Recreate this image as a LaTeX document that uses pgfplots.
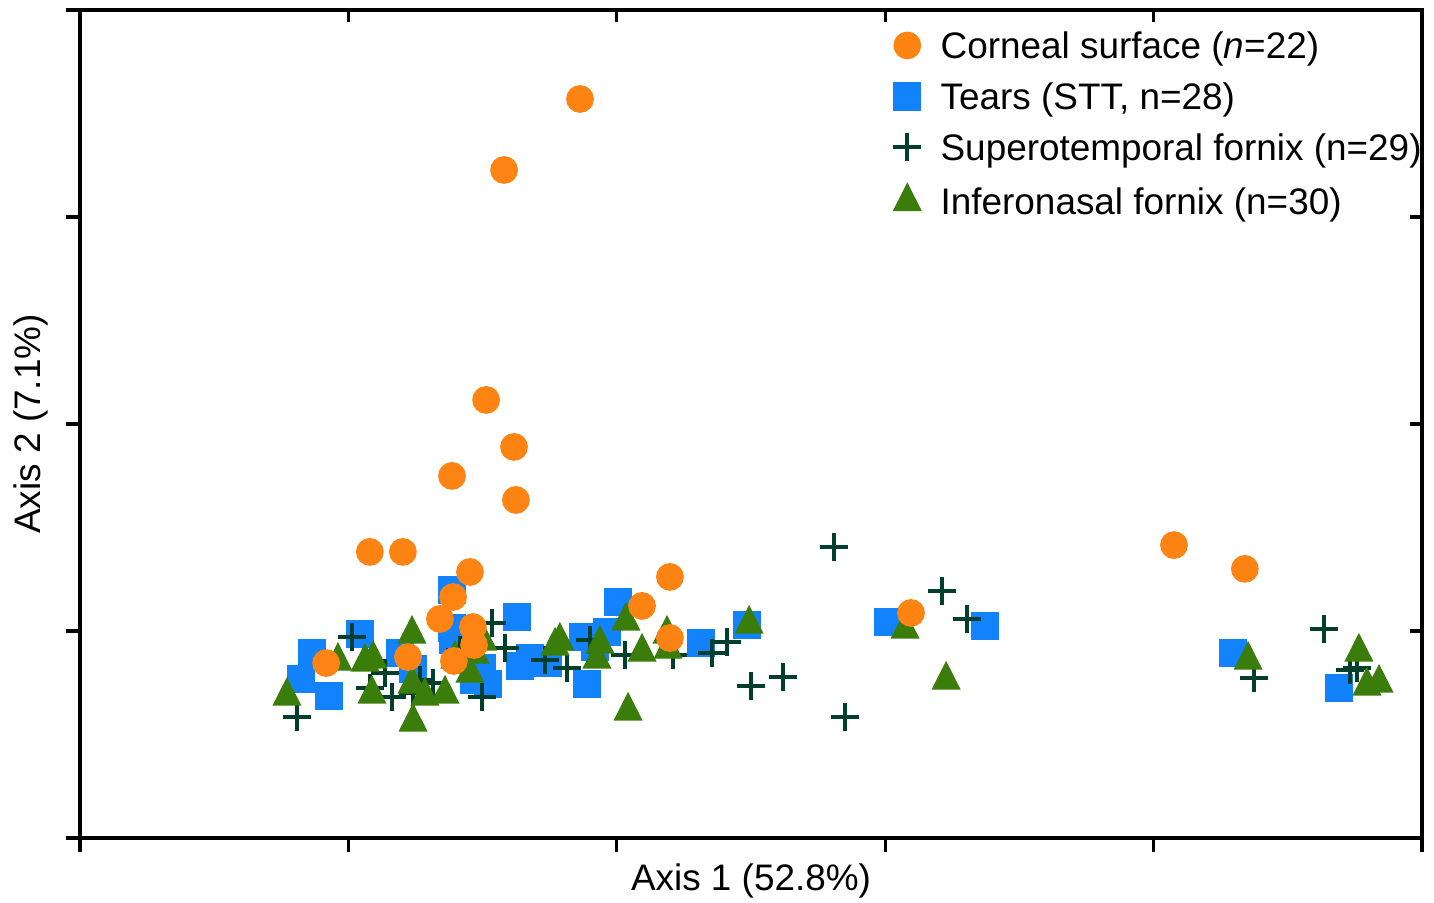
\documentclass[border=0pt]{standalone}
\usepackage{pgfplots}
\pgfplotsset{compat=1.18}
\usepackage{fontspec}
\setmainfont{Liberation Sans}

\definecolor{cOrange}{HTML}{FD8412}
\definecolor{cBlue}{HTML}{1283FD}
\definecolor{cCross}{HTML}{003F2C}
\definecolor{cTri}{HTML}{3A7D0B}

\begin{document}
\begin{tikzpicture}
% box ticks on top and right point inward
\begin{axis}[
    scale only axis, width=134.2mm, height=82.8mm,
    xmin=0, xmax=5, ymin=0, ymax=4,
    xtick={0,1,2,3,4,5}, ytick={0,1,2,3,4},
    xticklabels={}, yticklabels={},
    xtick pos=right, ytick pos=right, tick align=inside,
    major tick length=1.2mm,
    axis line style={line width=0.95pt, black},
    tick style={line width=0.95pt, black},
]
\end{axis}
\begin{axis}[
    name=main,
    scale only axis, width=134.2mm, height=82.8mm,
    xmin=0, xmax=5, ymin=0, ymax=4,
    xtick={0,1,2,3,4,5}, ytick={0,1,2,3,4},
    xticklabels={}, yticklabels={},
    xtick pos=left, ytick pos=left, tick align=outside,
    major tick length=1.4mm,
    axis line style={line width=0.95pt, black},
    tick style={line width=0.95pt, black},
    clip=false,
    label style={font=\fontsize{10.5}{12.6}\selectfont},
    xlabel={Axis 1 (52.8\%)},
    ylabel={Axis 2 (7.1\%)},
    xlabel style={at={(axis description cs:0.5,-0.030)}, anchor=north, inner sep=0pt},
    ylabel style={at={(axis description cs:-0.0229,0.5)}, anchor=south, inner sep=0pt},
    legend cell align=left,
    legend image code/.code={\draw[#1] plot coordinates {(0cm,0cm)};},
    legend style={at={(axis description cs:0.606,0.9746)}, anchor=north west,
        draw=none, fill=none, inner sep=0pt, outer sep=0pt, row sep=6.3pt,
        font=\fontsize{10.5}{12.6}\selectfont,
        nodes={inner sep=0.5pt, text height=0.72em, text depth=0pt},
        /tikz/every odd column/.append style={column sep=1.75mm}},
]
\addlegendimage{mark=*, color=cOrange, mark size=3.75pt}
\addlegendentry{Corneal surface (\textit{n}=22)}
\addlegendimage{mark=square*, color=cBlue, mark size=3.83pt}
\addlegendentry{Tears (STT, n=28)}
\addlegendimage{mark=+, color=cCross, mark size=4pt, line width=1.13pt}
\addlegendentry{Superotemporal fornix (n=29)}
\addlegendimage{mark=triangle*, color=cTri, mark size=4.4pt, mark options={yscale=1.14}}
\addlegendentry{Inferonasal fornix (n=30)}

% Tears (STT)
\addplot[only marks, mark=square*, color=cBlue, mark size=3.83pt, forget plot] coordinates {
(1.386,1.198) (1.386,1.014) (1.043,0.986) (0.864,0.894) (0.823,0.768)
(0.928,0.686) (1.192,0.894) (1.241,0.816) (1.628,1.068) (1.639,0.831)
(1.468,0.763) (1.520,0.744) (1.744,0.845) (2.004,1.140) (1.874,0.971)
(1.963,0.995) (1.919,0.923) (1.889,0.744) (2.314,0.942) (2.485,1.029)
(3.010,1.043) (3.372,1.024) (4.296,0.894) (4.691,0.725)
(1.453,0.860) (1.498,0.821) (1.390,0.957) (1.676,0.870)
};

% Superotemporal fornix
\addplot[only marks, mark=+, color=cCross, mark size=4pt, line width=1.13pt, forget plot] coordinates {
(0.808,0.585) (1.013,0.971) (1.136,0.797) (1.162,0.681) (1.080,0.725)
(1.241,0.700) (1.315,0.749) (1.535,1.039) (1.583,0.918) (1.498,0.681)
(1.814,0.821) (2.031,0.884) (2.209,0.884) (2.355,0.894) (2.411,0.947)
(2.500,0.734) (2.619,0.778) (2.809,1.406) (3.212,1.193) (3.305,1.058)
(2.850,0.585) (4.635,1.010) (4.374,0.773) (4.732,0.812) (4.758,0.821)
(1.416,0.908) (1.732,0.860) (1.267,0.763) (1.900,0.957)
};

% Inferonasal fornix
\addplot[only marks, mark=triangle*, color=cTri, mark size=4.4pt, mark options={yscale=1.14}, forget plot] coordinates {
(1.237,0.985) (0.961,0.854) (1.062,0.850) (1.092,0.864) (0.771,0.685)
(1.088,0.695) (1.237,0.743) (1.285,0.685) (1.360,0.695) (1.241,0.560)
(1.472,0.888) (1.501,0.951) (1.788,0.951) (1.770,0.927) (1.926,0.864)
(2.034,1.048) (2.094,0.898) (2.187,0.985) (2.191,0.912) (2.042,0.613)
(2.493,1.033) (3.074,1.009) (3.227,0.763) (4.352,0.859) (4.765,0.898)
(4.795,0.734) (4.840,0.748)
(1.397,0.864) (1.453,0.796) (1.937,0.937)
};

% Corneal surface
\addplot[only marks, mark=*, color=cOrange, mark size=3.75pt, forget plot] coordinates {
(1.863,3.570) (1.580,3.227) (1.513,2.116) (1.617,1.889) (1.386,1.749)
(1.624,1.633) (1.080,1.382) (1.203,1.382) (1.453,1.285) (1.390,1.164)
(1.341,1.058) (1.464,1.019) (1.468,0.932) (1.393,0.855) (1.222,0.874)
(0.917,0.845) (2.198,1.261) (2.094,1.121) (2.198,0.966) (3.096,1.087)
(4.076,1.415) (4.340,1.300)
};
\end{axis}
\pgfresetboundingbox
\path[use as bounding box] ([shift={(-8mm,-6.5mm)}]main.south west) rectangle ([shift={(1.2mm,1mm)}]main.north east);
\end{tikzpicture}
\end{document}
